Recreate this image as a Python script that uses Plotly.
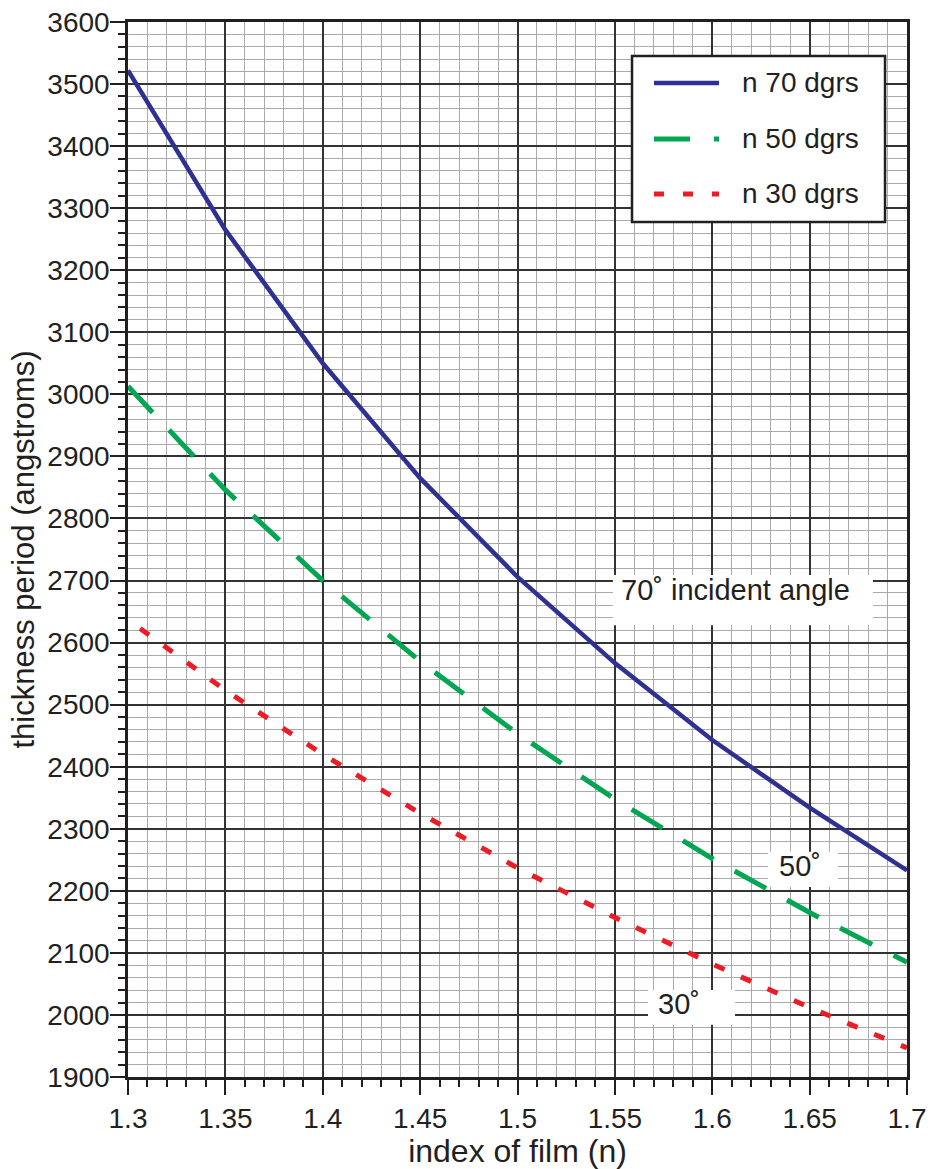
import plotly.graph_objects as go

# refractive index of the film
index_n = [1.30, 1.35, 1.40, 1.45, 1.50, 1.55, 1.60, 1.65, 1.70]

# thickness period (angstroms) for each incident angle
period_70 = [3522, 3265, 3050, 2865, 2706, 2567, 2443, 2334, 2233]
period_50 = [3013, 2846, 2700, 2570, 2453, 2348, 2252, 2165, 2085]
period_30 = [2637, 2523, 2420, 2325, 2237, 2157, 2082, 2012, 1947]

series_names = ["n 70 dgrs", "n 50 dgrs", "n 30 dgrs"]

x_ticks = [1.3, 1.35, 1.4, 1.45, 1.5, 1.55, 1.6, 1.65, 1.7]
x_tick_text = ["1.3", "1.35", "1.4", "1.45", "1.5", "1.55", "1.6", "1.65", "1.7"]
y_ticks = list(range(1900, 3601, 100))

FONT = "Liberation Sans, Arial, Helvetica, sans-serif"
INK = "#231f20"
BLUE = "#2e3192"
GREEN = "#00a651"
RED = "#ed1c24"

# line styles: (colour, width, trace dash, legend-sample dash)
styles = [
    (BLUE, 4.5, "solid", "solid"),
    (GREEN, 5, "36px,24px", "36px,24px"),
    (RED, 5, "0px,15px,11px,3px", "10px,19px"),
]
series = [period_70, period_50, period_30]

fig = go.Figure()

for name, values, (color, width, dash, _) in zip(series_names, series, styles):
    fig.add_trace(go.Scatter(
        x=index_n, y=values, name=name, mode="lines",
        line=dict(color=color, width=width, dash=dash),
        showlegend=False,
    ))

# white label boxes behind the angle captions
label_boxes = [
    (1.549, 1.6825, 2628, 2709),
    (1.6286, 1.6646, 2206, 2263),
    (1.567, 1.6117, 1984, 2040),
]
for x0, x1, y0, y1 in label_boxes:
    fig.add_shape(type="rect", x0=x0, x1=x1, y0=y0, y1=y1,
                  xref="x", yref="y", layer="between",
                  fillcolor="white", line=dict(width=0))

captions = [
    ("70˚ incident angle", 1.5521, 2684),
    ("50˚", 1.6335, 2240),
    ("30˚", 1.5713, 2018),
]
for text, cx, cy in captions:
    fig.add_annotation(x=cx, y=cy, text=text, showarrow=False,
                       xanchor="left", yanchor="middle",
                       font=dict(family=FONT, size=29, color=INK))

# legend panel (paper coordinates)
fig.add_shape(type="rect", xref="paper", yref="paper",
              x0=0.6470, x1=0.9718, y0=0.8104, y1=0.9678,
              fillcolor="white", line=dict(color=INK, width=2.5),
              layer="above")
legend_rows = [0.9422, 0.8891, 0.8370]
for name, row, (color, width, _, sample_dash) in zip(series_names, legend_rows, styles):
    fig.add_shape(type="line", xref="paper", yref="paper",
                  x0=0.6752, x1=0.7587, y0=row, y1=row,
                  line=dict(color=color, width=width, dash=sample_dash),
                  layer="above")
    fig.add_annotation(xref="paper", yref="paper", x=0.7860, y=row,
                       text=name, showarrow=False,
                       xanchor="left", yanchor="middle",
                       font=dict(family=FONT, size=28, color=INK))

axis_common = dict(
    showline=True, linecolor=INK, linewidth=2.5, mirror=True,
    ticks="outside", tickcolor=INK, tickwidth=1.5, ticklen=15,
    showgrid=True, gridcolor="#333333", gridwidth=1.5,
    zeroline=False, automargin=False,
    tickfont=dict(family=FONT, size=28, color=INK),
)

fig.update_xaxes(
    range=[1.3, 1.7], tickvals=x_ticks, ticktext=x_tick_text,
    minor=dict(dtick=0.01, tick0=1.3, ticks="outside", ticklen=7,
               tickcolor=INK, tickwidth=1.5, showgrid=True,
               gridcolor="#aaaaaa", gridwidth=1.3),
    title=dict(text="index of film (n)", standoff=2,
               font=dict(family=FONT, size=32, color=INK)),
    **axis_common,
)
fig.update_yaxes(
    range=[1900, 3600], tickvals=y_ticks,
    ticklabelstandoff=-5,
    minor=dict(dtick=20, tick0=1900, ticks="outside", ticklen=7,
               tickcolor=INK, tickwidth=1.5, showgrid=True,
               gridcolor="#aaaaaa", gridwidth=1.3),
    title=dict(text="thickness period (angstroms)", standoff=4,
               font=dict(family=FONT, size=31, color=INK)),
    **axis_common,
)

fig.update_layout(
    width=932, height=1169,
    margin=dict(l=128, r=25, t=22, b=92, autoexpand=False),
    paper_bgcolor="white", plot_bgcolor="white",
    font=dict(family=FONT, color=INK),
    showlegend=False,
)

fig.write_html("out.html")
